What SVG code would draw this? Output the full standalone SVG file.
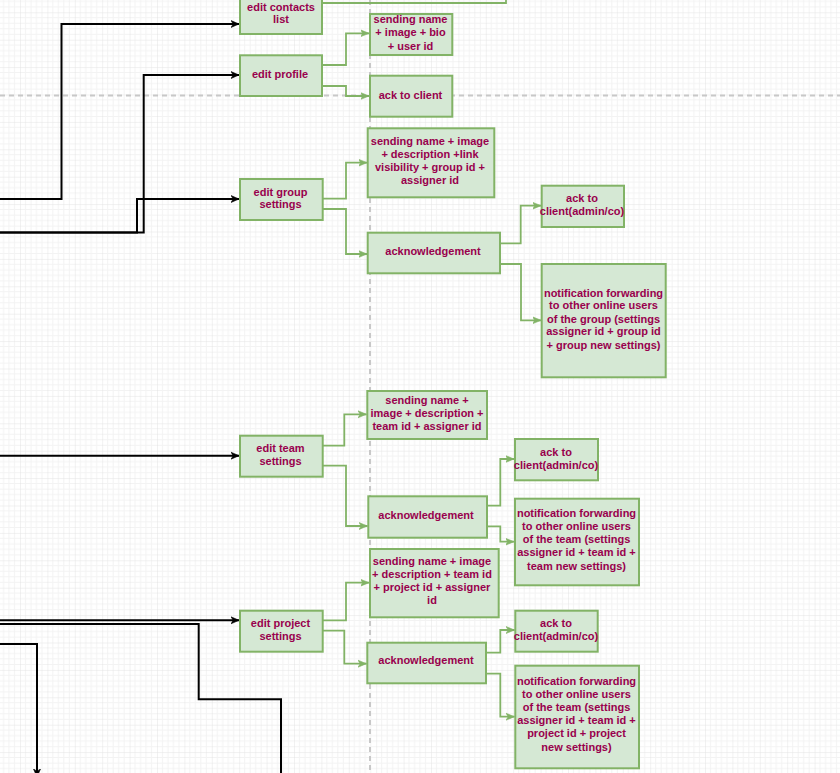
<svg xmlns="http://www.w3.org/2000/svg" width="840" height="773" viewBox="0 0 840 773">
  <style>
    .box { fill: #d5e8d4; stroke: #82b366; stroke-width: 2; }
    .lbl { font-family: "Liberation Sans", Arial, sans-serif; font-size: 11px; font-weight: bold; fill: #99004d; text-anchor: middle; }
    .gl { fill: none; stroke: #82b366; stroke-width: 1.8; }
    .bl { fill: none; stroke: #000000; stroke-width: 2; }
    .guide { fill: none; stroke: #c8c8c8; stroke-width: 2; stroke-dasharray: 5 4; }
  </style>
  <defs>
    <pattern id="grid" patternUnits="userSpaceOnUse" x="20" y="12.3" width="27.4" height="27.4">
      <path d="M5.48,0V27.4M10.96,0V27.4M16.44,0V27.4M21.92,0V27.4M0,5.48H27.4M0,10.96H27.4M0,16.44H27.4M0,21.92H27.4" stroke="#f3f3f3" stroke-width="1" fill="none"/>
      <path d="M0,0V27.4M0,0H27.4" stroke="#e3e3e3" stroke-width="1" fill="none"/>
    </pattern>
    <marker id="ga" markerUnits="userSpaceOnUse" markerWidth="10" markerHeight="9" refX="8.5" refY="3.5" orient="auto" viewBox="0 0 10 7">
      <path d="M0,0 L8.5,3.5 L0,7 L2.2,3.5 Z" fill="#82b366" stroke="#82b366" stroke-width="0.6"/>
    </marker>
    <marker id="ba" markerUnits="userSpaceOnUse" markerWidth="10" markerHeight="9" refX="8" refY="3.5" orient="auto" viewBox="0 0 10 7">
      <path d="M0,0 L8,3.5 L0,7 L2.2,3.5 Z" fill="#000000" stroke="#000000" stroke-width="0.6"/>
    </marker>
  </defs>

  <!-- canvas background -->
  <rect x="0" y="0" width="840" height="773" fill="#ffffff"/>
  <rect x="0" y="0" width="840" height="773" fill="url(#grid)"/>

  <!-- swimlane guides -->
  <g id="guides">
    <path class="guide" d="M0,95.5H840"/>
    <path class="guide" d="M370,0V773"/>
  </g>

  <g id="connectors">
    <!-- incoming black flows -->
    <path class="bl" d="M0,199H61.5V24H239" marker-end="url(#ba)"/>
    <path class="bl" d="M0,232.5H143.7V75H239" marker-end="url(#ba)"/>
    <path class="bl" d="M0,232.5H137V199H239" marker-end="url(#ba)"/>
    <path class="bl" d="M0,455.7H239" marker-end="url(#ba)"/>
    <path class="bl" d="M0,620.3H239" marker-end="url(#ba)"/>
    <path class="bl" d="M0,624H198.7V699.3H281V773"/>
    <path class="bl" d="M0,644H37V777" marker-end="url(#ba)"/>

    <!-- edit contacts list -->
    <path class="gl" d="M322,3H506V-10"/>
    <!-- edit profile -->
    <path class="gl" d="M322,65H346V33.3H369" marker-end="url(#ga)"/>
    <path class="gl" d="M322,86H346V96H369" marker-end="url(#ga)"/>
    <!-- edit group settings -->
    <path class="gl" d="M322.7,198.7H346V162.7H367" marker-end="url(#ga)"/>
    <path class="gl" d="M322.7,209H346V254H367" marker-end="url(#ga)"/>
    <path class="gl" d="M500,243.3H520.7V205.7H541" marker-end="url(#ga)"/>
    <path class="gl" d="M500,264H521V320.3H541" marker-end="url(#ga)"/>
    <!-- edit team settings -->
    <path class="gl" d="M322.7,445.7H344.3V414.3H366.5" marker-end="url(#ga)"/>
    <path class="gl" d="M322.7,465.7H346V526H367.5" marker-end="url(#ga)"/>
    <path class="gl" d="M487,505.7H500.3V459H514" marker-end="url(#ga)"/>
    <path class="gl" d="M487,526.3H500.3V541.7H514" marker-end="url(#ga)"/>
    <!-- edit project settings -->
    <path class="gl" d="M322.7,620.3H346V582.7H369" marker-end="url(#ga)"/>
    <path class="gl" d="M322.7,630.7H344.3V663.7H366.5" marker-end="url(#ga)"/>
    <path class="gl" d="M486,652.7H500.3V630H514.5" marker-end="url(#ga)"/>
    <path class="gl" d="M486,673.7H500.3V716.7H514.5" marker-end="url(#ga)"/>
  </g>

  <!-- top section -->
  <g id="edit-contacts-list">
    <rect class="box" x="240" y="-7" width="82" height="41"/>
    <text class="lbl" x="281" y="10.5">edit contacts</text>
    <text class="lbl" x="281" y="23">list</text>
  </g>
  <g id="edit-profile">
    <rect class="box" x="240" y="55.3" width="82" height="40.7"/>
    <text class="lbl" x="280" y="78">edit profile</text>
  </g>
  <g id="profile-payload">
    <rect class="box" x="370" y="14" width="82.3" height="41"/>
    <text class="lbl" x="410.5" y="23.3">sending name</text>
    <text class="lbl" x="410.5" y="36.3">+ image + bio</text>
    <text class="lbl" x="410.5" y="49.5">+ user id</text>
  </g>
  <g id="profile-ack">
    <rect class="box" x="370" y="75.7" width="82.3" height="41"/>
    <text class="lbl" x="410.5" y="99">ack to client</text>
  </g>

  <!-- group settings -->
  <g id="edit-group-settings">
    <rect class="box" x="240" y="179" width="82.7" height="41"/>
    <text class="lbl" x="280.5" y="195.7">edit group</text>
    <text class="lbl" x="280.5" y="208.3">settings</text>
  </g>
  <g id="group-payload">
    <rect class="box" x="367.7" y="128.3" width="126.6" height="69"/>
    <text class="lbl" x="430" y="145.3">sending name + image</text>
    <text class="lbl" x="430" y="158.3">+ description +link</text>
    <text class="lbl" x="430" y="171.3">visibility + group id +</text>
    <text class="lbl" x="430" y="184.3">assigner id</text>
  </g>
  <g id="group-ack">
    <rect class="box" x="367.7" y="232.7" width="132.3" height="40.6"/>
    <text class="lbl" x="433" y="254.7">acknowledgement</text>
  </g>
  <g id="group-ack-client">
    <rect class="box" x="541.7" y="185.7" width="82.3" height="41.3"/>
    <text class="lbl" x="582" y="202.3">ack to</text>
    <text class="lbl" x="582" y="215">client(admin/co)</text>
  </g>
  <g id="group-notify">
    <rect class="box" x="541.7" y="264" width="124" height="113.3"/>
    <text class="lbl" x="603.5" y="296.7">notification forwarding</text>
    <text class="lbl" x="603.5" y="309.3">to other online users</text>
    <text class="lbl" x="603.5" y="322.7">of the group (settings</text>
    <text class="lbl" x="603.5" y="335.3">assigner id + group id</text>
    <text class="lbl" x="603.5" y="348.7">+ group new settings)</text>
  </g>

  <!-- team settings -->
  <g id="edit-team-settings">
    <rect class="box" x="240" y="435.7" width="82.7" height="41"/>
    <text class="lbl" x="280.5" y="452.3">edit team</text>
    <text class="lbl" x="280.5" y="465.3">settings</text>
  </g>
  <g id="team-payload">
    <rect class="box" x="367.3" y="391" width="119.7" height="48"/>
    <text class="lbl" x="427" y="404.3">sending name +</text>
    <text class="lbl" x="427" y="417.3">image + description +</text>
    <text class="lbl" x="427" y="430.3">team id + assigner id</text>
  </g>
  <g id="team-ack">
    <rect class="box" x="368.3" y="496.3" width="118.7" height="41.4"/>
    <text class="lbl" x="426" y="519">acknowledgement</text>
  </g>
  <g id="team-ack-client">
    <rect class="box" x="515" y="439" width="83" height="41.3"/>
    <text class="lbl" x="556" y="455.7">ack to</text>
    <text class="lbl" x="556" y="469">client(admin/co)</text>
  </g>
  <g id="team-notify">
    <rect class="box" x="515" y="498.7" width="124" height="86.6"/>
    <text class="lbl" x="576.5" y="517.3">notification forwarding</text>
    <text class="lbl" x="576.5" y="530.3">to other online users</text>
    <text class="lbl" x="576.5" y="543.3">of the team (settings</text>
    <text class="lbl" x="576.5" y="556.3">assigner id + team id +</text>
    <text class="lbl" x="576.5" y="570">team new settings)</text>
  </g>

  <!-- project settings -->
  <g id="edit-project-settings">
    <rect class="box" x="240" y="610.7" width="82.7" height="41"/>
    <text class="lbl" x="280.5" y="627.3">edit project</text>
    <text class="lbl" x="280.5" y="640.3">settings</text>
  </g>
  <g id="project-payload">
    <rect class="box" x="370" y="549" width="128.7" height="68.3"/>
    <text class="lbl" x="432" y="565.3">sending name + image</text>
    <text class="lbl" x="432" y="578.3">+ description + team id</text>
    <text class="lbl" x="432" y="591.3">+ project id + assigner</text>
    <text class="lbl" x="432" y="604.3">id</text>
  </g>
  <g id="project-ack">
    <rect class="box" x="367.3" y="642.7" width="118.7" height="40.6"/>
    <text class="lbl" x="426" y="664">acknowledgement</text>
  </g>
  <g id="project-ack-client">
    <rect class="box" x="515.3" y="610.7" width="82.4" height="41"/>
    <text class="lbl" x="556" y="627.3">ack to</text>
    <text class="lbl" x="556" y="640.3">client(admin/co)</text>
  </g>
  <g id="project-notify">
    <rect class="box" x="515.3" y="665.7" width="123.7" height="102.6"/>
    <text class="lbl" x="576.5" y="685.3">notification forwarding</text>
    <text class="lbl" x="576.5" y="698.3">to other online users</text>
    <text class="lbl" x="576.5" y="711">of the team (settings</text>
    <text class="lbl" x="576.5" y="724">assigner id + team id +</text>
    <text class="lbl" x="576.5" y="737.3">project id + project</text>
    <text class="lbl" x="576.5" y="750.7">new settings)</text>
  </g>
</svg>
